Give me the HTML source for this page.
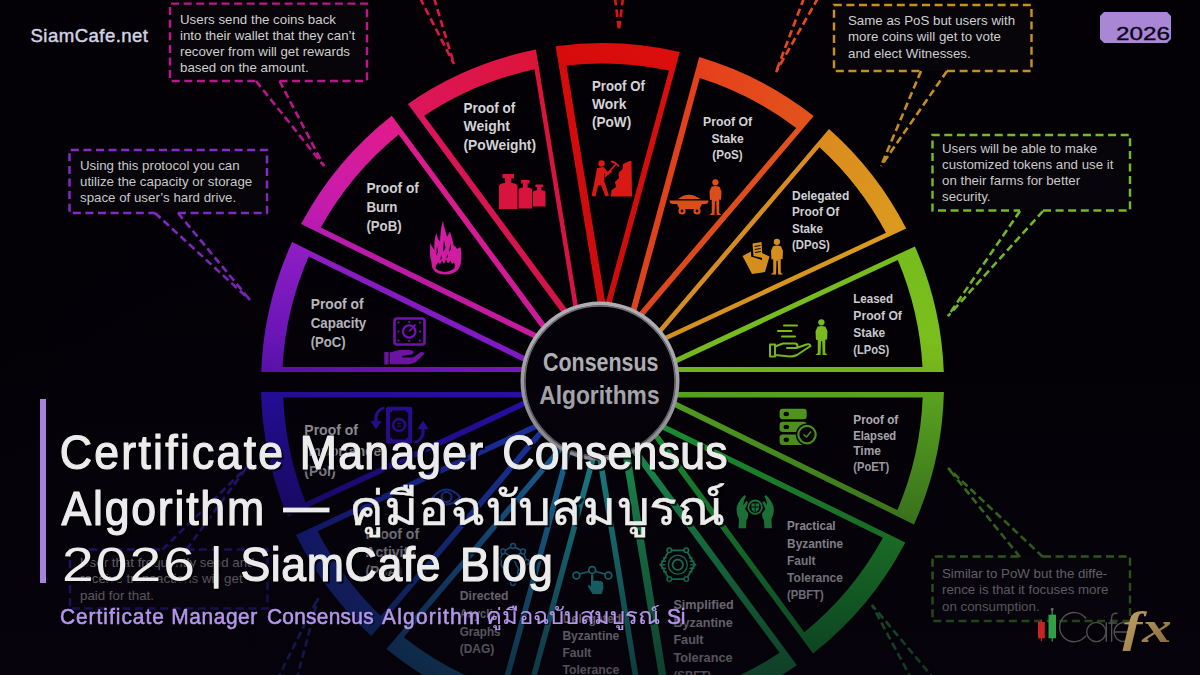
<!DOCTYPE html>
<html><head><meta charset="utf-8"><title>Certificate Manager Consensus Algorithm</title>
<style>
html,body{margin:0;padding:0;background:#030105;}
body{width:1200px;height:675px;overflow:hidden;position:relative;font-family:"Liberation Sans",sans-serif;}
svg{position:absolute;left:0;top:0;display:block}
svg text{font-family:"Liberation Sans",sans-serif;}
</style></head><body>
<svg width="1200" height="675" viewBox="0 0 1200 675">
<defs><linearGradient id="w0" gradientUnits="userSpaceOnUse" x1="944" y1="372" x2="915" y2="246"><stop offset="0" stop-color="#86cf1f"/><stop offset="1" stop-color="#7cc61e"/></linearGradient><linearGradient id="w1" gradientUnits="userSpaceOnUse" x1="906" y1="228" x2="829" y2="129"><stop offset="0" stop-color="#e6a21f"/><stop offset="1" stop-color="#e08f1e"/></linearGradient><linearGradient id="w2" gradientUnits="userSpaceOnUse" x1="814" y1="116" x2="699" y2="57"><stop offset="0" stop-color="#e8561c"/><stop offset="1" stop-color="#e83f1b"/></linearGradient><linearGradient id="w3" gradientUnits="userSpaceOnUse" x1="680" y1="52" x2="556" y2="46"><stop offset="0" stop-color="#dc0f0d"/><stop offset="1" stop-color="#d80b0b"/></linearGradient><linearGradient id="w4" gradientUnits="userSpaceOnUse" x1="536" y1="50" x2="408" y2="104"><stop offset="0" stop-color="#e01438"/><stop offset="1" stop-color="#e0165e"/></linearGradient><linearGradient id="w5" gradientUnits="userSpaceOnUse" x1="392" y1="116" x2="301" y2="224"><stop offset="0" stop-color="#e81c8c"/><stop offset="1" stop-color="#c81cc0"/></linearGradient><linearGradient id="w6" gradientUnits="userSpaceOnUse" x1="292" y1="242" x2="261" y2="372"><stop offset="0" stop-color="#a021d8"/><stop offset="1" stop-color="#7617e2"/></linearGradient><linearGradient id="w7" gradientUnits="userSpaceOnUse" x1="261" y1="392" x2="288" y2="517"><stop offset="0" stop-color="#3212d6"/><stop offset="1" stop-color="#2c10c6"/></linearGradient><linearGradient id="w8" gradientUnits="userSpaceOnUse" x1="296" y1="535" x2="371" y2="636"><stop offset="0" stop-color="#2230d0"/><stop offset="1" stop-color="#1e50cc"/></linearGradient><linearGradient id="w9" gradientUnits="userSpaceOnUse" x1="386" y1="649" x2="501" y2="711"><stop offset="0" stop-color="#1e70c4"/><stop offset="1" stop-color="#1f98c0"/></linearGradient><linearGradient id="w10" gradientUnits="userSpaceOnUse" x1="520" y1="716" x2="646" y2="723"><stop offset="0" stop-color="#1fa2b8"/><stop offset="1" stop-color="#1fae9c"/></linearGradient><linearGradient id="w11" gradientUnits="userSpaceOnUse" x1="666" y1="720" x2="797" y2="665"><stop offset="0" stop-color="#1fb46c"/><stop offset="1" stop-color="#20b458"/></linearGradient><linearGradient id="w12" gradientUnits="userSpaceOnUse" x1="813" y1="653" x2="905" y2="542"><stop offset="0" stop-color="#18b040"/><stop offset="1" stop-color="#26b634"/></linearGradient><linearGradient id="w13" gradientUnits="userSpaceOnUse" x1="914" y1="524" x2="944" y2="392"><stop offset="0" stop-color="#58b826"/><stop offset="1" stop-color="#6cc422"/></linearGradient><linearGradient id="ov" x1="0" y1="0" x2="0" y2="1"><stop offset="0" stop-color="#07030e" stop-opacity="0"/><stop offset="0.5" stop-color="#07030e" stop-opacity="0.07"/><stop offset="1" stop-color="#07030e" stop-opacity="0.66"/></linearGradient><radialGradient id="ov2" gradientUnits="userSpaceOnUse" cx="250" cy="520" r="340"><stop offset="0" stop-color="#07030e" stop-opacity="0.3"/><stop offset="1" stop-color="#07030e" stop-opacity="0"/></radialGradient><linearGradient id="gold" x1="0" y1="0" x2="1" y2="1"><stop offset="0" stop-color="#c4a66c"/><stop offset="0.5" stop-color="#a88a52"/><stop offset="1" stop-color="#7e6236"/></linearGradient></defs>
<rect width="1200" height="675" fill="#030105"/>
<path d="M645.6 372.0L943.8 372.0A341.5 341.5 0 0 0 914.9 246.4Z M668.6 366.9L922.5 366.9A320.5 320.5 0 0 0 897.8 260.0Z" fill="url(#w0)" fill-rule="evenodd"/>
<path d="M637.8 353.6L906.2 228.4A341.5 341.5 0 0 0 829.0 128.9Z M655.0 340.5L886.0 232.8A321.5 321.5 0 0 0 819.5 147.2Z" fill="url(#w1)" fill-rule="evenodd"/>
<path d="M621.9 341.4L813.7 116.1A341.5 341.5 0 0 0 699.2 57.0Z M634.6 317.8L796.2 127.9A321.5 321.5 0 0 0 699.8 78.1Z" fill="url(#w2)" fill-rule="evenodd"/>
<path d="M602.9 334.9L679.8 51.9A341.5 341.5 0 0 0 555.6 46.2Z M605.5 303.9L669.0 70.5A321.0 321.0 0 0 0 566.5 65.5Z" fill="url(#w3)" fill-rule="evenodd"/>
<path d="M583.9 342.7L535.9 49.6A341.5 341.5 0 0 0 407.9 103.9Z M575.8 321.3L534.5 69.3A322.5 322.5 0 0 0 424.2 115.8Z" fill="url(#w4)" fill-rule="evenodd"/>
<path d="M568.2 355.0L391.8 115.8A341.5 341.5 0 0 0 301.0 224.1Z M550.1 339.9L398.7 134.6A322.5 322.5 0 0 0 320.8 227.6Z" fill="url(#w5)" fill-rule="evenodd"/>
<path d="M557.4 372.0L292.1 242.1A341.5 341.5 0 0 0 261.2 372.0Z M534.2 366.9L308.7 256.4A320.5 320.5 0 0 0 282.5 366.9Z" fill="url(#w6)" fill-rule="evenodd"/>
<path d="M555.4 392.0L261.1 392.0A341.5 341.5 0 0 0 287.7 516.8Z M530.1 397.6L283.3 397.6A319.5 319.5 0 0 0 305.5 502.3Z" fill="url(#w7)" fill-rule="evenodd"/>
<path d="M563.2 410.4L296.0 535.0A341.5 341.5 0 0 0 371.3 635.9Z M542.2 426.4L317.5 531.2A320.5 320.5 0 0 0 380.9 616.0Z" fill="url(#w8)" fill-rule="evenodd"/>
<path d="M579.1 422.6L386.4 649.0A341.5 341.5 0 0 0 500.9 710.5Z M567.1 445.3L403.8 637.2A321.5 321.5 0 0 0 500.8 689.5Z" fill="url(#w9)" fill-rule="evenodd"/>
<path d="M598.1 429.1L520.1 715.9A341.5 341.5 0 0 0 646.2 723.2Z M596.7 455.4L530.8 697.9A321.5 321.5 0 0 0 637.4 704.1Z" fill="url(#w10)" fill-rule="evenodd"/>
<path d="M617.1 421.3L666.0 720.0A341.5 341.5 0 0 0 796.9 665.3Z M629.3 449.1L670.2 698.8A321.5 321.5 0 0 0 779.6 652.8Z" fill="url(#w11)" fill-rule="evenodd"/>
<path d="M632.8 409.0L813.0 653.4A341.5 341.5 0 0 0 905.3 542.4Z M650.9 424.1L804.3 632.2A319.5 319.5 0 0 0 882.9 537.7Z" fill="url(#w12)" fill-rule="evenodd"/>
<path d="M643.6 392.0L914.0 524.4A341.5 341.5 0 0 0 943.9 392.0Z M667.8 397.6L897.4 510.1A320.5 320.5 0 0 0 922.7 397.6Z" fill="url(#w13)" fill-rule="evenodd"/>
<circle cx="600" cy="381" r="79" fill="#050208"/>
<circle cx="600" cy="381" r="77.5" fill="none" stroke="#b9b9be" stroke-width="4"/>
<circle cx="600" cy="381" r="75" fill="none" stroke="#77777c" stroke-width="1.5"/>
<g font-size="24.9" font-weight="bold" fill="#c4c4c8"><text x="543" y="370.6" textLength="115.5" lengthAdjust="spacingAndGlyphs">Consensus</text><text x="539.2" y="403.8" textLength="120.4" lengthAdjust="spacingAndGlyphs">Algorithms</text></g>
<g font-size="14.5" font-weight="bold" fill="#d8d8dc"><text x="463.5" y="113.2" textLength="51.7" lengthAdjust="spacingAndGlyphs">Proof of</text><text x="463.5" y="131.45" textLength="46.4" lengthAdjust="spacingAndGlyphs">Weight</text><text x="463.5" y="149.7" textLength="72.5" lengthAdjust="spacingAndGlyphs">(PoWeight)</text></g>
<g font-size="14.2" font-weight="bold" fill="#d8d8dc"><text x="592" y="91.3" textLength="52.8" lengthAdjust="spacingAndGlyphs">Proof Of</text><text x="592" y="109.15" textLength="34.4" lengthAdjust="spacingAndGlyphs">Work</text><text x="592" y="127" textLength="39.2" lengthAdjust="spacingAndGlyphs">(PoW)</text></g>
<g font-size="13.2" font-weight="bold" fill="#d8d8dc"><text x="703.01" y="125.6" textLength="49" lengthAdjust="spacingAndGlyphs">Proof Of</text><text x="711.43" y="142.5" textLength="32.2" lengthAdjust="spacingAndGlyphs">Stake</text><text x="712.34" y="159.4" textLength="30.3" lengthAdjust="spacingAndGlyphs">(PoS)</text></g>
<g font-size="12.7" font-weight="bold" fill="#d8d8dc"><text x="792" y="199.6" textLength="57.2" lengthAdjust="spacingAndGlyphs">Delegated</text><text x="792" y="216.2" textLength="47.2" lengthAdjust="spacingAndGlyphs">Proof Of</text><text x="792" y="232.8" textLength="31" lengthAdjust="spacingAndGlyphs">Stake</text><text x="792" y="249.4" textLength="37.7" lengthAdjust="spacingAndGlyphs">(DPoS)</text></g>
<g font-size="13.1" font-weight="bold" fill="#d8d8dc"><text x="853.3" y="302.5" textLength="39.8" lengthAdjust="spacingAndGlyphs">Leased</text><text x="853.3" y="319.5" textLength="48.6" lengthAdjust="spacingAndGlyphs">Proof Of</text><text x="853.3" y="336.5" textLength="31.9" lengthAdjust="spacingAndGlyphs">Stake</text><text x="853.3" y="353.5" textLength="36" lengthAdjust="spacingAndGlyphs">(LPoS)</text></g>
<g font-size="14.7" font-weight="bold" fill="#d8d8dc"><text x="366.4" y="193.1" textLength="52.4" lengthAdjust="spacingAndGlyphs">Proof of</text><text x="366.4" y="211.9" textLength="31" lengthAdjust="spacingAndGlyphs">Burn</text><text x="366.4" y="230.7" textLength="35.2" lengthAdjust="spacingAndGlyphs">(PoB)</text></g>
<g font-size="14.8" font-weight="bold" fill="#d8d8dc"><text x="310.7" y="308.7" textLength="52.8" lengthAdjust="spacingAndGlyphs">Proof of</text><text x="310.7" y="327.8" textLength="55.6" lengthAdjust="spacingAndGlyphs">Capacity</text><text x="310.7" y="346.9" textLength="34.9" lengthAdjust="spacingAndGlyphs">(PoC)</text></g>
<g font-size="12.6" font-weight="bold" fill="#d8d8dc"><text x="853.3" y="424" textLength="45" lengthAdjust="spacingAndGlyphs">Proof of</text><text x="853.3" y="439.6" textLength="42.9" lengthAdjust="spacingAndGlyphs">Elapsed</text><text x="853.3" y="455.2" textLength="27.6" lengthAdjust="spacingAndGlyphs">Time</text><text x="853.3" y="470.8" textLength="35.8" lengthAdjust="spacingAndGlyphs">(PoET)</text></g>
<g font-size="12.9" font-weight="bold" fill="#d8d8dc"><text x="787.1" y="530.4" textLength="48.5" lengthAdjust="spacingAndGlyphs">Practical</text><text x="787.1" y="547.5" textLength="55.9" lengthAdjust="spacingAndGlyphs">Byzantine</text><text x="787.1" y="564.6" textLength="28.4" lengthAdjust="spacingAndGlyphs">Fault</text><text x="787.1" y="581.7" textLength="55.9" lengthAdjust="spacingAndGlyphs">Tolerance</text><text x="787.1" y="598.8" textLength="36.5" lengthAdjust="spacingAndGlyphs">(PBFT)</text></g>
<g font-size="13.7" font-weight="bold" fill="#d8d8dc"><text x="673.4" y="609" textLength="60.3" lengthAdjust="spacingAndGlyphs">Simplified</text><text x="673.4" y="626.7" textLength="59.4" lengthAdjust="spacingAndGlyphs">Byzantine</text><text x="673.4" y="644.4" textLength="30.2" lengthAdjust="spacingAndGlyphs">Fault</text><text x="673.4" y="662.1" textLength="59.3" lengthAdjust="spacingAndGlyphs">Tolerance</text><text x="673.4" y="679.8" textLength="37.8" lengthAdjust="spacingAndGlyphs">(SBFT)</text></g>
<g font-size="13.1" font-weight="bold" fill="#d8d8dc"><text x="562.4" y="623.4" textLength="58.9" lengthAdjust="spacingAndGlyphs">Delegated</text><text x="562.4" y="640.2" textLength="56.9" lengthAdjust="spacingAndGlyphs">Byzantine</text><text x="562.4" y="657" textLength="28.9" lengthAdjust="spacingAndGlyphs">Fault</text><text x="562.4" y="673.8" textLength="56.9" lengthAdjust="spacingAndGlyphs">Tolerance</text></g>
<g font-size="13" font-weight="bold" fill="#d8d8dc"><text x="459.7" y="600.2" textLength="48.9" lengthAdjust="spacingAndGlyphs">Directed</text><text x="459.7" y="617.9" textLength="39" lengthAdjust="spacingAndGlyphs">Acyclic</text><text x="459.7" y="635.6" textLength="40.8" lengthAdjust="spacingAndGlyphs">Graphs</text><text x="459.7" y="653.3" textLength="34.5" lengthAdjust="spacingAndGlyphs">(DAG)</text></g>
<g font-size="15.1" font-weight="bold" fill="#d8d8dc"><text x="365.4" y="538.7" textLength="53.7" lengthAdjust="spacingAndGlyphs">Proof of</text><text x="365.4" y="557.2" textLength="50.5" lengthAdjust="spacingAndGlyphs">Activity</text><text x="365.4" y="575.7" textLength="36.8" lengthAdjust="spacingAndGlyphs">(PoA)</text></g>
<g font-size="15.1" font-weight="bold" fill="#d8d8dc"><text x="304.3" y="435.2" textLength="53.7" lengthAdjust="spacingAndGlyphs">Proof of</text><text x="304.3" y="455.8" textLength="76.9" lengthAdjust="spacingAndGlyphs">Importance</text><text x="304.3" y="476.4" textLength="31.3" lengthAdjust="spacingAndGlyphs">(PoI)</text></g>
<g fill="#e01440"><path d="M502.5 174.0h11.5v4.2h-2.6v4.9q6.1 0 6.1 3.5V209.0H499.0V186.6q0 -3.5 6.1 -3.5v-4.9h-2.6Z"/><path d="M521.1 180.0h8.4v3.4h-1.9v4.0q4.5 0 4.5 2.9V208.5H518.5V190.3q0 -2.9 4.5 -2.9v-4.0h-1.9Z"/><path d="M535.4 184.5h7.8v2.6h-1.8v3.1q4.1 0 4.1 2.2V206.5H533.0V192.4q0 -2.2 4.1 -2.2v-3.1h-1.8Z"/></g>
<g fill="#dc1eaa"><path d="M431.500 262C429 255 430.500 250 430 243C432 246 433 249 434.500 250C434 244 434.500 238 436.500 233C437.500 238 438.500 240 440 241.500C440.500 233 441 227 443 220.500C443.500 227 446 231 447 237C448 235 449 233.500 450 231.500C451 236 453 240 453.500 245C455 246.500 456 247 457 249C458 248 459.500 247.500 460.500 247.500C461.500 252 461.800 258 460.800 263C460 270 454 274.500 445 274.500C436 274.500 431 270 431.500 262Z"/><path d="M435.500 268Q436 263.500 439 262.500L440 264.500L442 260.500L444 264L446 259.500L448 263.500L450.500 260.500L452 264L454 262.500Q455.500 265 454.500 268Q450 272 445 271.800Q439 272 435.500 268Z" fill="#050208"/><path d="M437 246L438 252L436.200 256ZM444 240L445.500 248L443 252ZM450.500 243L451 249L449 252ZM441 255L442 258.500L440.500 260ZM447 253.500L448 257L446.500 258.500Z" fill="#050208"/></g>
<g fill="#e01a14"><circle cx="601.5" cy="163.5" r="3.2"/><path d="M597 168L603.500 167L607.500 171.500L611 170L612 172L607 175.500L604 173L604.500 182L609 195.500L605.500 196.500L601 185L598 186L595.500 196.500L591.500 196L594.500 182Z"/><path d="M604 176L615.500 163.500L616.500 164.500L605.500 177.500Z"/><path d="M611.500 160.500Q616 161 619.500 166L618.500 167Q615 163 610.500 162Z"/><path d="M611 196.500L611.500 190L616 187L615 182L619 178L618.500 173L622.500 169L623 164L629.500 161L631.500 161L632 196.500Z"/></g>
<g fill="#e6501a"><path d="M678 199Q688.500 190.500 700.500 199Z"/><path d="M669.500 200.500H708.500Q708.500 204 705 204L702 204L699.500 209H679.500L677 204L673 204Q669.500 204 669.500 200.500Z"/><circle cx="682" cy="211" r="3.6"/><circle cx="697" cy="211" r="3.6"/><circle cx="682" cy="211" r="1.4" fill="#050208"/><circle cx="697" cy="211" r="1.4" fill="#050208"/></g><g transform="translate(708.5 179.0) scale(1.014)" fill="#e6501a"><circle cx="6.8" cy="3.3" r="3.1"/><path d="M3 7.6Q6.8 6.2 10.8 7.6L12.8 12L12.4 20.5L10.6 20.2L10.6 33.5L12.8 35.6L8 35.6L7.6 22L6.4 22L6 35.6L0.8 35.6L3.2 33.5L3.2 20.4L1.4 20.8L1 12Z"/></g>
<g fill="#e0961e"><path d="M742.500 256L751 251.500L751 256.500L762 260L762 253L769.500 256.500L765 272L752 274Z"/><path d="M752.500 243.500L761.500 242L762.500 258L753.500 256Z"/><path d="M754.5 246.500L760.500 245.500M754.700 249.500L760.700 248.500M755 252.500L761 251.500" stroke="#050208" stroke-width="1" fill="none"/></g><g transform="translate(770.0 238.5) scale(1.014)" fill="#e0961e"><circle cx="6.8" cy="3.3" r="3.1"/><path d="M3 7.6Q6.8 6.2 10.8 7.6L12.8 12L12.4 20.5L10.6 20.2L10.6 33.5L12.8 35.6L8 35.6L7.6 22L6.4 22L6 35.6L0.8 35.6L3.2 33.5L3.2 20.4L1.4 20.8L1 12Z"/></g>
<g fill="none" stroke="#82c81e" stroke-width="2" stroke-linecap="round" stroke-linejoin="round"><path d="M784 325.500H797M778 331H791.500M782 336.500H795"/><path d="M770 344.500H775V356.500H770ZM775 346.500L783 343.500H795Q797.500 343.500 797.500 346Q797.500 348 795 348H787M796.500 348L806.500 344.500Q810 343.500 810.500 346L797 355Q794 356.500 790 356.500L775 355"/></g><g transform="translate(814.5 319.0) scale(1.014)" fill="#82c81e"><circle cx="6.8" cy="3.3" r="3.1"/><path d="M3 7.6Q6.8 6.2 10.8 7.6L12.8 12L12.4 20.5L10.6 20.2L10.6 33.5L12.8 35.6L8 35.6L7.6 22L6.4 22L6 35.6L0.8 35.6L3.2 33.5L3.2 20.4L1.4 20.8L1 12Z"/></g>
<g fill="none" stroke="#8416c8"><rect x="394.500" y="318.500" width="30" height="26" rx="2.500" stroke-width="2.600"/><circle cx="409.200" cy="331.500" r="6.200" stroke-width="2.200"/><path d="M409.200 331.500L415.500 324.500" stroke-width="1.800"/></g><g fill="#8416c8"><circle cx="398.5" cy="322.5" r="1.1"/><circle cx="409.2" cy="322.0" r="1.1"/><circle cx="420.0" cy="322.5" r="1.1"/><circle cx="398.5" cy="331.5" r="1.1"/><circle cx="420.0" cy="331.5" r="1.1"/><circle cx="398.5" cy="340.5" r="1.1"/><circle cx="409.2" cy="341.0" r="1.1"/><circle cx="420.0" cy="340.5" r="1.1"/><rect x="384.300" y="352" width="4.300" height="12.600"/><path d="M390 352.500L399 350Q408 349 413 351Q414.500 353.500 411 354.500L402 356L402.500 357.500L413 357.500L421 352Q424.500 351.500 424 354L416 362Q413 364 408 364.300L390 364.300Z"/></g>
<g fill="#3412c8"><rect x="386" y="406.700" width="26.200" height="36.800" rx="2"/><path d="M390 412.500Q392.500 412.500 392.500 410.500H405.700Q405.700 412.500 408.200 412.500V437.500Q405.700 437.500 405.700 439.500H392.500Q392.500 437.500 390 437.500Z" fill="#070312"/><circle cx="399.100" cy="425" r="7.200"/><circle cx="399.100" cy="425" r="4.800" fill="#070312"/><rect x="397.300" y="423" width="3.600" height="1.300"/><rect x="397.300" y="425.700" width="3.600" height="1.300"/><path d="M384.500 409Q377 411 377.500 421L381.500 421L376 429.500L370.500 421L374.300 421Q373.500 409 384.500 406.500Z"/><path d="M414.500 441Q422 439 421.500 429L417.500 429L423 420.500L428.500 429L424.700 429Q425.500 441 414.500 443.500Z"/></g>
<g fill="#62b822"><rect x="779.600" y="408.8" width="27.100" height="10.400" rx="3"/><rect x="779.600" y="421.7" width="27.100" height="10.400" rx="3"/><rect x="779.600" y="434.6" width="27.100" height="10.400" rx="3"/></g><g fill="#050208"><ellipse cx="786.300" cy="414.0" rx="2.700" ry="2.200"/><ellipse cx="786.300" cy="426.9" rx="2.700" ry="2.200"/><ellipse cx="786.300" cy="439.8" rx="2.700" ry="2.200"/><circle cx="807" cy="434.600" r="11.200"/></g><circle cx="807" cy="434.600" r="8.700" fill="none" stroke="#62b822" stroke-width="2.200"/><path d="M803.500 434.500L806.500 437L811 431.500" fill="none" stroke="#62b822" stroke-width="1.500"/>
<g fill="#26b050"><path d="M738.500 528.300L739 519Q735.500 513 737 506Q740 499 744.500 495L746 496.500Q743 501 743.500 505L746.500 501L748 502.500L745 509L748 513Q749 517 746.500 520L746 528.300Z"/><path transform="translate(1510.400 0) scale(-1 1)" d="M738.500 528.300L739 519Q735.500 513 737 506Q740 499 744.500 495L746 496.500Q743 501 743.500 505L746.500 501L748 502.500L745 509L748 513Q749 517 746.500 520L746 528.300Z"/><circle cx="755.200" cy="507.200" r="7.600"/><circle cx="755.200" cy="507.200" r="5.800" fill="#050208"/><path d="M751.500 503.500H759V508Q759 511 755.200 512.300Q751.500 511 751.500 508Z"/><path d="M755.200 503.500V512M751.500 507H759" stroke="#050208" stroke-width="0.900" fill="none"/></g>
<g fill="none" stroke="#26c07c" stroke-width="1.800"><path d="M694.8 564.7L686.3 579.1L669.3 579.1L660.8 564.7L669.3 550.3L686.3 550.3Z"/><circle cx="677.8" cy="564.7" r="5.200"/><circle cx="677.8" cy="564.7" r="9.500" stroke-width="1.300"/><path d="M663.1 557.7h3.6M688.9 557.7h3.6" stroke-width="1.500"/><path d="M661.2 561.2h4.8M689.6 561.2h4.8" stroke-width="1.500"/><path d="M659.3 564.7h6.0M690.3 564.7h6.0" stroke-width="1.500"/><path d="M661.2 568.2h4.8M689.6 568.2h4.8" stroke-width="1.500"/><path d="M663.1 571.7h3.6M688.9 571.7h3.6" stroke-width="1.500"/></g><g fill="#050208" stroke="#26c07c" stroke-width="1.500"><circle cx="686.3" cy="579.1" r="2.300"/><circle cx="669.3" cy="579.1" r="2.300"/><circle cx="669.3" cy="550.3" r="2.300"/><circle cx="686.3" cy="550.3" r="2.300"/></g>
<g fill="none" stroke="#26b4b4" stroke-width="1.700"><path d="M579.500 574L589 571.500M595.500 571.500L605 574"/><circle cx="576.400" cy="575.500" r="3.400"/><circle cx="592.200" cy="570" r="3.400"/><circle cx="608.400" cy="575.500" r="3.400"/></g><g fill="#26b4b4"><path d="M591 575Q592.200 573.500 593.400 575L593.400 581L595 580.500L596.500 581L598 580.500L599.500 581.200L601 581L603 582.500L603.500 588L601.500 594H592.500L588 586.500Q587.500 584.500 589.500 585L591 587Z"/></g>
<g fill="none" stroke="#2690d0" stroke-width="1.600"><path d="M513.0 546.0L503.0 551.5M513.0 546.0L523.0 551.5M503.0 551.5L499.0 562.0M523.0 551.5L527.0 562.0M503.0 551.5L513.0 558.0M523.0 551.5L513.0 558.0M499.0 562.0L506.0 572.0M527.0 562.0L520.0 572.0M513.0 558.0L506.0 572.0M513.0 558.0L520.0 572.0M506.0 572.0L513.0 583.0M520.0 572.0L513.0 583.0"/></g><g fill="#050208" stroke="#2690d0" stroke-width="1.500"><circle cx="513.0" cy="546.0" r="2.400"/><circle cx="503.0" cy="551.5" r="2.400"/><circle cx="523.0" cy="551.5" r="2.400"/><circle cx="499.0" cy="562.0" r="2.400"/><circle cx="527.0" cy="562.0" r="2.400"/><circle cx="513.0" cy="558.0" r="2.400"/><circle cx="506.0" cy="572.0" r="2.400"/><circle cx="520.0" cy="572.0" r="2.400"/><circle cx="513.0" cy="583.0" r="2.400"/></g>
<g fill="none" stroke="#2048c8" stroke-width="2"><path d="M433 497Q446.500 482 460 497Q446.500 512 433 497Z"/><circle cx="446.500" cy="497" r="5"/></g>
<rect x="170.0" y="3.6" width="197.0" height="77.4" fill="#07050a"/><path d="M279.5 81.0H367.0V3.6H170.0V81.0H256.0" fill="none" stroke="#c0158f" stroke-width="2.45" stroke-dasharray="8 4.6"/><path d="M256.0 81.0L324.0 166.0" stroke="#c0158f" stroke-width="2.6" stroke-dasharray="7.5 4" fill="none"/><path d="M279.5 81.0L324.0 166.0" stroke="#c0158f" stroke-width="2.6" stroke-dasharray="7.5 4" fill="none"/><text x="180.0" y="24.0" font-size="13.3" fill="#cfcfcf">Users send the coins back</text><text x="180.0" y="40.0" font-size="13.3" fill="#cfcfcf">into their wallet that they can&#8217;t</text><text x="180.0" y="56.0" font-size="13.3" fill="#cfcfcf">recover from will get rewards</text><text x="180.0" y="72.0" font-size="13.3" fill="#cfcfcf">based on the amount.</text>
<rect x="69.5" y="150.0" width="197.5" height="63.0" fill="#07050a"/><path d="M178.0 213.0H267.0V150.0H69.5V213.0H155.0" fill="none" stroke="#8a2cd0" stroke-width="2.45" stroke-dasharray="8 4.6"/><path d="M155.0 213.0L250.0 300.0" stroke="#8a2cd0" stroke-width="2.6" stroke-dasharray="7.5 4" fill="none"/><path d="M178.0 213.0L250.0 300.0" stroke="#8a2cd0" stroke-width="2.6" stroke-dasharray="7.5 4" fill="none"/><text x="80.0" y="170.0" font-size="13.3" fill="#cfcfcf">Using this protocol you can</text><text x="80.0" y="186.0" font-size="13.3" fill="#cfcfcf">utilize the capacity or storage</text><text x="80.0" y="202.0" font-size="13.3" fill="#cfcfcf">space of user&#8217;s hard drive.</text>
<rect x="834.0" y="5.0" width="197.5" height="66.0" fill="#07050a"/><path d="M947.0 71.0H1031.5V5.0H834.0V71.0H921.0" fill="none" stroke="#c8901f" stroke-width="2.45" stroke-dasharray="8 4.6"/><path d="M921.0 71.0L881.0 166.0" stroke="#c8901f" stroke-width="2.6" stroke-dasharray="7.5 4" fill="none"/><path d="M947.0 71.0L881.0 166.0" stroke="#c8901f" stroke-width="2.6" stroke-dasharray="7.5 4" fill="none"/><text x="848.0" y="25.0" font-size="13.3" fill="#cfcfcf">Same as PoS but users with</text><text x="848.0" y="41.3" font-size="13.3" fill="#cfcfcf">more coins will get to vote</text><text x="848.0" y="57.6" font-size="13.3" fill="#cfcfcf">and elect Witnesses.</text>
<rect x="932.5" y="135.0" width="197.5" height="75.5" fill="#07050a"/><path d="M1043.0 210.5H1130.0V135.0H932.5V210.5H1020.0" fill="none" stroke="#78c028" stroke-width="2.45" stroke-dasharray="8 4.6"/><path d="M1020.0 211.0L948.0 316.0" stroke="#78c028" stroke-width="2.6" stroke-dasharray="7.5 4" fill="none"/><path d="M1043.0 211.0L948.0 316.0" stroke="#78c028" stroke-width="2.6" stroke-dasharray="7.5 4" fill="none"/><text x="942.0" y="153.0" font-size="13.3" fill="#cfcfcf">Users will be able to make</text><text x="942.0" y="169.0" font-size="13.3" fill="#cfcfcf">customized tokens and use it</text><text x="942.0" y="185.0" font-size="13.3" fill="#cfcfcf">on their farms for better</text><text x="942.0" y="201.0" font-size="13.3" fill="#cfcfcf">security.</text>
<rect x="932.5" y="556.5" width="197.5" height="64.5" fill="#07050a"/><path d="M1043.0 556.5H1130.0V621.0H932.5V556.5H1020.0" fill="none" stroke="#4c9a24" stroke-width="2.45" stroke-dasharray="8 4.6"/><path d="M1020.0 557.0L948.0 468.0" stroke="#4c9a24" stroke-width="2.6" stroke-dasharray="7.5 4" fill="none"/><path d="M1043.0 557.0L948.0 468.0" stroke="#4c9a24" stroke-width="2.6" stroke-dasharray="7.5 4" fill="none"/><text x="942.0" y="578.0" font-size="13.3" fill="#b2b2b2">Similar to PoW but the diffe-</text><text x="942.0" y="594.3" font-size="13.3" fill="#b2b2b2">rence is that it focuses more</text><text x="942.0" y="610.6" font-size="13.3" fill="#b2b2b2">on consumption.</text>
<rect x="70.0" y="549.5" width="197.5" height="59.0" fill="#07050a"/><path d="M186.4 549.5H267.5V608.5H70.0V549.5H162.5" fill="none" stroke="#3c22c0" stroke-width="2.45" stroke-dasharray="8 4.6"/><path d="M186.4 549.5L247.0 467.0" stroke="#3c22c0" stroke-width="2.6" stroke-dasharray="7.5 4" fill="none"/><path d="M162.5 549.5L247.0 467.0" stroke="#3c22c0" stroke-width="2.6" stroke-dasharray="7.5 4" fill="none"/><text x="80.0" y="567.0" font-size="13.3" fill="#cfcfcf">User that frequently send and</text><text x="80.0" y="583.3" font-size="13.3" fill="#cfcfcf">receive transactions will get</text><text x="80.0" y="599.6" font-size="13.3" fill="#cfcfcf">paid for that.</text>
<path d="M420.0 -2.0L454.0 64.0" stroke="#dc1846" stroke-width="2.6" stroke-dasharray="7.5 4" fill="none"/><path d="M434.0 -2.0L454.0 64.0" stroke="#dc1846" stroke-width="2.6" stroke-dasharray="7.5 4" fill="none"/>
<path d="M615.0 -2.0L619.0 30.0" stroke="#e01212" stroke-width="2.6" stroke-dasharray="7.5 4" fill="none"/><path d="M623.0 -2.0L619.0 30.0" stroke="#e01212" stroke-width="2.6" stroke-dasharray="7.5 4" fill="none"/>
<path d="M804.0 -2.0L776.0 72.0" stroke="#e8481c" stroke-width="2.6" stroke-dasharray="7.5 4" fill="none"/><path d="M818.0 -2.0L776.0 72.0" stroke="#e8481c" stroke-width="2.6" stroke-dasharray="7.5 4" fill="none"/>
<path d="M935.0 680.0L872.0 605.0" stroke="#2c9a40" stroke-width="2.6" stroke-dasharray="7.5 4" fill="none"/><path d="M912.0 680.0L872.0 605.0" stroke="#2c9a40" stroke-width="2.6" stroke-dasharray="7.5 4" fill="none"/>
<path d="M277.0 680.0L318.0 598.0" stroke="#2a44c8" stroke-width="2.6" stroke-dasharray="7.5 4" fill="none"/><path d="M296.5 680.0L318.0 598.0" stroke="#2a44c8" stroke-width="2.6" stroke-dasharray="7.5 4" fill="none"/>
<rect x="0" y="0" width="1200" height="675" fill="url(#ov)"/><rect x="0" y="150" width="620" height="525" fill="url(#ov2)"/>
<rect x="40" y="399" width="6" height="184" fill="#a582dc"/>
<path d="M1104 12H1167L1171 16V39L1167 43H1104L1100 39V16Z" fill="#a987d6"/>
<text x="1116" y="39.5" font-size="19" fill="#0a0515" stroke="#0a0515" stroke-width="0.35" textLength="54" lengthAdjust="spacingAndGlyphs">2026</text>
<text x="30.5" y="41.5" font-size="18.6" fill="#d2d2e2" stroke="#d2d2e2" stroke-width="0.45" textLength="117.5" lengthAdjust="spacing">SiamCafe.net</text>
<g fill="none" stroke="#505050" stroke-width="1.4" stroke-linecap="butt"><path d="M1086.0 618.5A14.6 14.6 0 1 0 1086.0 635.7"/><circle cx="1096.3" cy="632" r="9.6"/><path d="M1106.3 622.3V641.7"/><path d="M1111.6 641.7V618Q1111.6 612.6 1117.6 613.4M1108.3 623H1116.8"/><path d="M1114.3 632H1133A9.4 9.4 0 1 0 1130.6 638.3"/></g>
<rect x="1038" y="622" width="6.8" height="16.3" fill="#c82328"/><path d="M1041.4 619.5V641" stroke="#c82328" stroke-width="1.2"/>
<rect x="1048.5" y="614.7" width="7.5" height="23.6" fill="#32a046"/><path d="M1052.2 609.5V641.5" stroke="#32a046" stroke-width="1.2"/><circle cx="1052.2" cy="609.3" r="1.4" fill="#6a6a6a"/>
<text transform="translate(1122.5 641.5) scale(1.34 1)" font-family="Liberation Serif" font-style="italic" font-weight="bold" font-size="44" fill="url(#gold)" style="font-family:'Liberation Serif',serif">fx</text>
<g opacity="0.75"><text transform="translate(0 471.0) scale(0.9300 1)" x="66.38" y="0" font-size="48.0" font-weight="normal" letter-spacing="2.42" fill="#000" stroke="#000" stroke-width="1.25" stroke-linejoin="round">Certificate</text><text transform="translate(0 471.0) scale(0.9300 1)" x="324.56" y="0" font-size="48.0" font-weight="normal" letter-spacing="1.29" fill="#000" stroke="#000" stroke-width="1.25" stroke-linejoin="round">Manager</text><text transform="translate(0 471.0) scale(0.9300 1)" x="542.19" y="0" font-size="48.0" font-weight="normal" letter-spacing="0.28" fill="#000" stroke="#000" stroke-width="1.25" stroke-linejoin="round">Consensus</text><text transform="translate(0 527.0) scale(0.9300 1)" x="68.19" y="0" font-size="48.0" font-weight="normal" letter-spacing="1.91" fill="#000" stroke="#000" stroke-width="1.25" stroke-linejoin="round">Algorithm</text><rect x="285.0" y="509.6" width="46.5" height="4.8" fill="#000"/><text transform="translate(0 583.2) scale(1.1882 1)" x="53.98" y="0" font-size="48.0" font-weight="normal" letter-spacing="1.68" fill="#000">2026</text><rect x="215.8" y="548.0" width="4.8" height="42.7" fill="#000"/><text transform="translate(0 583.2) scale(0.9300 1)" x="260.72" y="0" font-size="48.0" font-weight="normal" letter-spacing="0.65" fill="#000" stroke="#000" stroke-width="1.25" stroke-linejoin="round">SiamCafe</text><text transform="translate(0 583.2) scale(0.9300 1)" x="496.82" y="0" font-size="48.0" font-weight="normal" letter-spacing="1.25" fill="#000" stroke="#000" stroke-width="1.25" stroke-linejoin="round">Blog</text><text x="351" y="526.6" font-size="48" fill="#000" stroke="#000" stroke-width="0.35" textLength="377" lengthAdjust="spacingAndGlyphs">คู่มือฉบับสมบูรณ์</text></g>
<text transform="translate(0 469.0) scale(0.9300 1)" x="64.23" y="0" font-size="48.0" font-weight="normal" letter-spacing="2.42" fill="#ececec" stroke="#ececec" stroke-width="1.25" stroke-linejoin="round">Certificate</text><text transform="translate(0 469.0) scale(0.9300 1)" x="322.41" y="0" font-size="48.0" font-weight="normal" letter-spacing="1.29" fill="#ececec" stroke="#ececec" stroke-width="1.25" stroke-linejoin="round">Manager</text><text transform="translate(0 469.0) scale(0.9300 1)" x="540.04" y="0" font-size="48.0" font-weight="normal" letter-spacing="0.28" fill="#ececec" stroke="#ececec" stroke-width="1.25" stroke-linejoin="round">Consensus</text><text transform="translate(0 525.0) scale(0.9300 1)" x="66.04" y="0" font-size="48.0" font-weight="normal" letter-spacing="1.91" fill="#ececec" stroke="#ececec" stroke-width="1.25" stroke-linejoin="round">Algorithm</text><rect x="283.0" y="507.6" width="46.5" height="4.8" fill="#ececec"/><text transform="translate(0 581.2) scale(1.1882 1)" x="52.29" y="0" font-size="48.0" font-weight="normal" letter-spacing="1.68" fill="#ececec">2026</text><rect x="213.8" y="546.0" width="4.8" height="42.7" fill="#ececec"/><text transform="translate(0 581.2) scale(0.9300 1)" x="258.57" y="0" font-size="48.0" font-weight="normal" letter-spacing="0.65" fill="#ececec" stroke="#ececec" stroke-width="1.25" stroke-linejoin="round">SiamCafe</text><text transform="translate(0 581.2) scale(0.9300 1)" x="494.66" y="0" font-size="48.0" font-weight="normal" letter-spacing="1.25" fill="#ececec" stroke="#ececec" stroke-width="1.25" stroke-linejoin="round">Blog</text><text x="349" y="524.6" font-size="48" fill="#ececec" stroke="#ececec" stroke-width="0.35" textLength="377" lengthAdjust="spacingAndGlyphs">คู่มือฉบับสมบูรณ์</text>
<g opacity="0.6"><text transform="translate(0 625.0) scale(0.9500 1)" x="64.67" y="0" font-size="22.0" font-weight="normal" letter-spacing="1.04" fill="#000" stroke="#000" stroke-width="0.55" stroke-linejoin="round">Certificate</text><text transform="translate(0 625.0) scale(0.9500 1)" x="181.88" y="0" font-size="22.0" font-weight="normal" letter-spacing="0.63" fill="#000" stroke="#000" stroke-width="0.55" stroke-linejoin="round">Manager</text><text transform="translate(0 625.0) scale(0.9500 1)" x="282.57" y="0" font-size="22.0" font-weight="normal" letter-spacing="0.30" fill="#000" stroke="#000" stroke-width="0.55" stroke-linejoin="round">Consensus</text><text transform="translate(0 625.0) scale(0.9500 1)" x="403.64" y="0" font-size="22.0" font-weight="normal" letter-spacing="1.33" fill="#000" stroke="#000" stroke-width="0.55" stroke-linejoin="round">Algorithm</text><text x="487.52" y="625" font-size="22" fill="#000" stroke="#000" stroke-width="0.12" textLength="174" lengthAdjust="spacingAndGlyphs">คู่มือฉบับสมบูรณ์</text><text transform="translate(0 625.0) scale(0.9500 1)" x="703.74" y="0" font-size="22.0" font-weight="normal" letter-spacing="-0.24" fill="#000" stroke="#000" stroke-width="0.55" stroke-linejoin="round">Si</text></g>
<text transform="translate(0 623.5) scale(0.9500 1)" x="63.09" y="0" font-size="22.0" font-weight="normal" letter-spacing="1.04" fill="#b596ec" stroke="#b596ec" stroke-width="0.55" stroke-linejoin="round">Certificate</text><text transform="translate(0 623.5) scale(0.9500 1)" x="180.30" y="0" font-size="22.0" font-weight="normal" letter-spacing="0.63" fill="#b596ec" stroke="#b596ec" stroke-width="0.55" stroke-linejoin="round">Manager</text><text transform="translate(0 623.5) scale(0.9500 1)" x="280.99" y="0" font-size="22.0" font-weight="normal" letter-spacing="0.30" fill="#b596ec" stroke="#b596ec" stroke-width="0.55" stroke-linejoin="round">Consensus</text><text transform="translate(0 623.5) scale(0.9500 1)" x="402.06" y="0" font-size="22.0" font-weight="normal" letter-spacing="1.33" fill="#b596ec" stroke="#b596ec" stroke-width="0.55" stroke-linejoin="round">Algorithm</text><text x="486.02" y="623.5" font-size="22" fill="#b596ec" stroke="#b596ec" stroke-width="0.12" textLength="174" lengthAdjust="spacingAndGlyphs">คู่มือฉบับสมบูรณ์</text><text transform="translate(0 623.5) scale(0.9500 1)" x="702.16" y="0" font-size="22.0" font-weight="normal" letter-spacing="-0.24" fill="#b596ec" stroke="#b596ec" stroke-width="0.55" stroke-linejoin="round">Si</text>
</svg>
</body></html>
